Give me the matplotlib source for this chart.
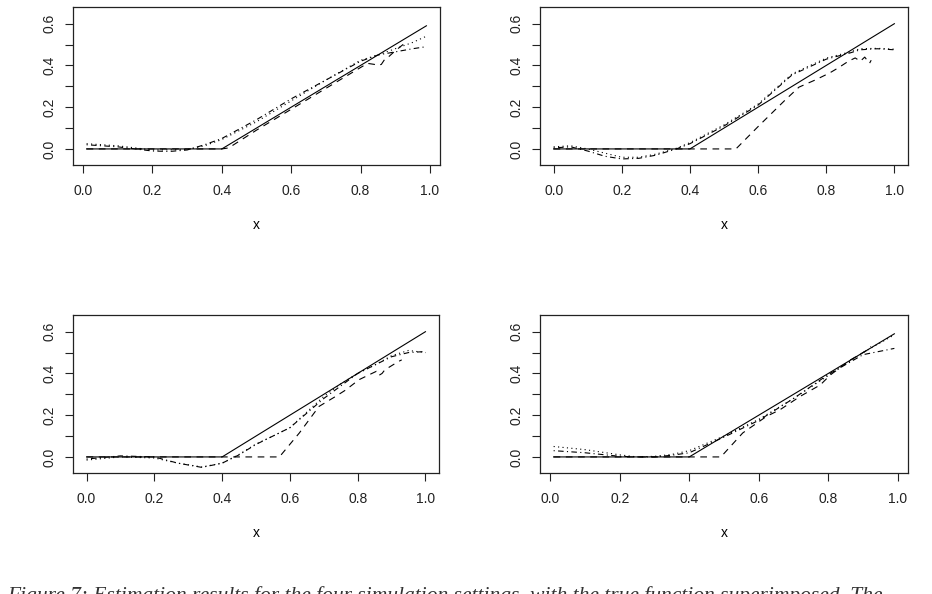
import matplotlib
matplotlib.use("Agg")
import matplotlib.pyplot as plt
import numpy as np

plt.rcParams['font.family'] = ['Liberation Sans', 'DejaVu Sans']

# ---------------- data ----------------
# Panel 1 (top-left)
p1_true_x = [0.01, 0.40, 0.99]
p1_true_y = [0.0, 0.0, 0.59]
p1_dash_x = [0.01, 0.10, 0.20, 0.30, 0.40, 0.42, 0.50, 0.60, 0.70, 0.78, 0.82, 0.84, 0.85, 0.86, 0.87, 0.88, 0.90, 0.93]
p1_dash_y = [0.0, 0.0, 0.0, 0.0, 0.0, 0.005, 0.09, 0.19, 0.29, 0.37, 0.41, 0.405, 0.40, 0.405, 0.43, 0.44, 0.47, 0.51]
p1_dd_x = [0.01, 0.10, 0.20, 0.25, 0.30, 0.35, 0.40, 0.50, 0.60, 0.70, 0.80, 0.85, 0.90, 0.95, 0.99]
p1_dd_y = [0.02, 0.01, -0.01, -0.012, -0.005, 0.02, 0.05, 0.14, 0.24, 0.33, 0.42, 0.45, 0.465, 0.48, 0.49]
p1_dot_x = [0.01, 0.10, 0.20, 0.30, 0.35, 0.40, 0.50, 0.60, 0.70, 0.80, 0.85, 0.90, 0.95, 0.99]
p1_dot_y = [0.025, 0.015, -0.005, -0.003, 0.015, 0.045, 0.13, 0.23, 0.33, 0.425, 0.45, 0.48, 0.51, 0.54]

# Panel 2 (top-right)
p2_true_x = [0.0, 0.40, 1.0]
p2_true_y = [0.0, 0.0, 0.60]
p2_dash_x = [0.0, 0.10, 0.20, 0.30, 0.40, 0.50, 0.535, 0.60, 0.68, 0.72, 0.77, 0.81, 0.835, 0.865, 0.885, 0.90, 0.913, 0.927, 0.932]
p2_dash_y = [0.0, 0.0, 0.0, 0.0, 0.0, 0.0, 0.0, 0.107, 0.235, 0.296, 0.332, 0.364, 0.388, 0.42, 0.436, 0.42, 0.44, 0.41, 0.425]
p2_dd_x = [0.0, 0.05, 0.10, 0.15, 0.20, 0.25, 0.30, 0.36, 0.40, 0.50, 0.60, 0.70, 0.80, 0.87, 0.90, 0.95, 1.0]
p2_dd_y = [0.005, 0.01, -0.01, -0.035, -0.048, -0.045, -0.03, 0.0, 0.025, 0.11, 0.21, 0.355, 0.43, 0.46, 0.475, 0.48, 0.475]
p2_dot_x = [0.0, 0.05, 0.10, 0.15, 0.20, 0.25, 0.30, 0.36, 0.40, 0.50, 0.60, 0.70, 0.80, 0.87, 0.90, 0.95, 1.0]
p2_dot_y = [0.01, 0.015, 0.0, -0.02, -0.04, -0.04, -0.025, 0.003, 0.03, 0.115, 0.215, 0.36, 0.435, 0.465, 0.48, 0.482, 0.478]

# Panel 3 (bottom-left)
p3_true_x = [0.0, 0.40, 1.0]
p3_true_y = [0.0, 0.0, 0.60]
p3_dash_x = [0.0, 0.20, 0.40, 0.569, 0.628, 0.686, 0.735, 0.764, 0.804, 0.833, 0.855, 0.862, 0.872, 0.88, 0.92, 0.93]
p3_dash_y = [0.0, 0.0, 0.0, 0.0, 0.115, 0.242, 0.29, 0.32, 0.37, 0.393, 0.41, 0.39, 0.40, 0.417, 0.457, 0.465]
p3_dd_x = [0.0, 0.10, 0.20, 0.27, 0.34, 0.40, 0.45, 0.50, 0.55, 0.60, 0.65, 0.70, 0.75, 0.80, 0.85, 0.90, 0.95, 1.0]
p3_dd_y = [-0.01, 0.005, 0.0, -0.03, -0.05, -0.03, 0.01, 0.06, 0.10, 0.14, 0.21, 0.28, 0.34, 0.40, 0.44, 0.48, 0.50, 0.505]
p3_dot_x = [0.0, 0.10, 0.20, 0.27, 0.34, 0.40, 0.45, 0.50, 0.55, 0.60, 0.65, 0.70, 0.75, 0.80, 0.85, 0.90, 0.95, 1.0]
p3_dot_y = [-0.015, 0.0, -0.005, -0.03, -0.048, -0.03, 0.012, 0.062, 0.10, 0.14, 0.215, 0.29, 0.35, 0.40, 0.44, 0.485, 0.51, 0.50]

# Panel 4 (bottom-right)
p4_true_x = [0.01, 0.40, 0.99]
p4_true_y = [0.0, 0.0, 0.59]
p4_dash_x = [0.01, 0.20, 0.40, 0.491, 0.554, 0.622, 0.661, 0.719, 0.777, 0.806, 0.864, 0.913, 0.922]
p4_dash_y = [0.0, 0.0, 0.0, 0.0, 0.115, 0.194, 0.226, 0.29, 0.345, 0.393, 0.465, 0.513, 0.53]
p4_dd_x = [0.01, 0.10, 0.20, 0.25, 0.30, 0.35, 0.40, 0.50, 0.60, 0.70, 0.80, 0.90, 0.99]
p4_dd_y = [0.03, 0.02, 0.003, 0.0, 0.0, 0.008, 0.02, 0.095, 0.175, 0.28, 0.395, 0.49, 0.52]
p4_dot_x = [0.01, 0.10, 0.20, 0.25, 0.30, 0.35, 0.40, 0.50, 0.60, 0.70, 0.80, 0.90, 0.99]
p4_dot_y = [0.05, 0.035, 0.01, 0.0, 0.003, 0.012, 0.03, 0.10, 0.18, 0.28, 0.39, 0.50, 0.585]

x_ticks = [0.0, 0.2, 0.4, 0.6, 0.8, 1.0]
x_ticklabels = ["0.0", "0.2", "0.4", "0.6", "0.8", "1.0"]
y_ticks = [0.0, 0.1, 0.2, 0.3, 0.4, 0.5, 0.6]
y_ticklabels = ["0.0", "", "0.2", "", "0.4", "", "0.6"]
caption = ("Figure 7: Estimation results for the four simulation settings, "
           "with the true function superimposed. The")

panels = [
    (p1_true_x, p1_true_y, p1_dash_x, p1_dash_y, p1_dd_x, p1_dd_y, p1_dot_x, p1_dot_y),
    (p2_true_x, p2_true_y, p2_dash_x, p2_dash_y, p2_dd_x, p2_dd_y, p2_dot_x, p2_dot_y),
    (p3_true_x, p3_true_y, p3_dash_x, p3_dash_y, p3_dd_x, p3_dd_y, p3_dot_x, p3_dot_y),
    (p4_true_x, p4_true_y, p4_dash_x, p4_dash_y, p4_dd_x, p4_dd_y, p4_dot_x, p4_dot_y),
]

# axes rectangles in figure fractions (left, bottom, width, height)
W, H = 932, 594
rects = [
    (73 / W, 1 - 165 / H, 367 / W, 158 / H),
    (540 / W, 1 - 165 / H, 368 / W, 158 / H),
    (73 / W, 1 - 473 / H, 366 / W, 158 / H),
    (540 / W, 1 - 473 / H, 368 / W, 158 / H),
]
xlims = [(-0.0292, 1.0292), (-0.04, 1.04), (-0.04, 1.04), (-0.0292, 1.0292)]

fig = plt.figure(figsize=(W / 100, H / 100), dpi=100)
lw = 0.8
for (tx, ty, dx, dy, ddx, ddy, ox, oy), r, xl in zip(panels, rects, xlims):
    ax = fig.add_axes(r)
    ax.plot(tx, ty, color="black", lw=lw, linestyle="-")
    ax.plot(dx, dy, color="black", lw=lw, linestyle=(0, (6, 5)))
    ax.plot(ox, oy, color="black", lw=lw, linestyle=(0, (1, 3)))
    ax.plot(ddx, ddy, color="black", lw=lw, linestyle=(0, (1, 3, 5, 3)))
    ax.set_xlim(*xl)
    ax.set_ylim(-0.077, 0.68)
    ax.set_xticks(x_ticks)
    ax.set_xticklabels(x_ticklabels)
    ax.set_yticks(y_ticks)
    ax.set_yticklabels(y_ticklabels, rotation=90, va="center")
    ax.tick_params(direction="out", length=6, width=0.8, labelsize=10, colors="#222222")
    ax.tick_params(axis="x", pad=8)
    ax.tick_params(axis="y", pad=6)
    for s in ax.spines.values():
        s.set_linewidth(0.9)
        s.set_color("#222222")
    ax.set_xlabel("x", fontsize=10, labelpad=14)

# caption, cut by the lower edge as in the reference
fig.text(0.008, 1 - 586 / H, caption, fontsize=15.5, family=["Liberation Serif", "DejaVu Serif"],
         style="italic", va="top", ha="left", color="#333333")

fig.savefig("out.png", dpi=100)
